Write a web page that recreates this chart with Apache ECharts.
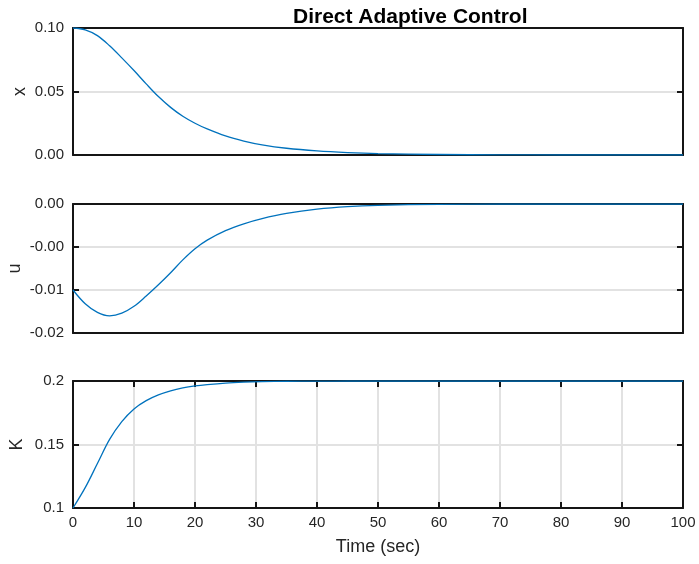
<!DOCTYPE html>
<html>
<head>
<meta charset="utf-8">
<script src="https://cdn.jsdelivr.net/npm/echarts@6/dist/echarts.min.js"></script>
<style>
  html, body { margin: 0; padding: 0; background: #fff; }
  #chart { width: 699px; height: 564px; }
</style>
</head>
<body>
<div id="chart"></div>
<script>
// time samples (sec) and the three responses
const timeSec = [0, 2, 4, 6, 8, 10, 12, 14, 16, 18, 20, 22, 25, 28, 31, 35, 40, 45, 50, 60, 70, 80, 90, 100];
const xVals = [0.1, 0.0985, 0.094, 0.086, 0.0765, 0.0665, 0.056, 0.046, 0.0375, 0.0305, 0.025, 0.0205, 0.015, 0.011, 0.008, 0.0053, 0.0032, 0.0019, 0.0011, 0.0004, 0.0001, 0, 0, 0];
const uVals = [-0.0100, -0.0116, -0.0126, -0.0130, -0.0127, -0.0119, -0.0107, -0.0094, -0.0080, -0.0065, -0.0052, -0.0042, -0.0031, -0.0023, -0.0017, -0.0011, -0.0006, -0.0003, -0.00015, -0.00004, 0, 0, 0, 0];
const kVals = [0.1, 0.116, 0.135, 0.154, 0.168, 0.178, 0.1845, 0.189, 0.1922, 0.1945, 0.1961, 0.1972, 0.1984, 0.1991, 0.1995, 0.1998, 0.1999, 0.2, 0.2, 0.2, 0.2, 0.2, 0.2, 0.2];

const timeTicks = [0, 10, 20, 30, 40, 50, 60, 70, 80, 90, 100];
const xTickLabels = ['0.00', '0.05', '0.10'];
const uTickLabels = ['-0.02', '-0.01', '-0.00', '0.00'];
const kTickLabels = ['0.1', '0.15', '0.2'];

const FONT = 'Liberation Sans, Arial, Helvetica, sans-serif';
const BLUE = '#0072BD';
const GRIDC = '#e2e2e2';
const TXT = '#262626';
const FRAME = { color: '#151515', width: 2 };

const pairs = (ys) => timeSec.map((t, i) => [t, ys[i]]);

function yAx(gi, min, max, interval, labels, name, gap, right) {
  return {
    type: 'value', gridIndex: gi, min: min, max: max, interval: interval,
    position: right ? 'right' : 'left',
    name: right ? '' : name, nameLocation: 'middle', nameGap: gap,
    nameMoveOverlap: false,
    nameTextStyle: { fontFamily: FONT, fontSize: 18, color: TXT },
    axisLine: { show: true, onZero: false, lineStyle: FRAME },
    axisTick: { show: true, inside: true, length: 6, lineStyle: FRAME },
    axisLabel: {
      show: !right, fontFamily: FONT, fontSize: 15, color: TXT, margin: 9,
      formatter: (v, i) => labels[i]
    },
    splitLine: { show: !right, lineStyle: { color: GRIDC, width: 2 } }
  };
}

function xAx(gi, showTicks, top) {
  return {
    type: 'value', gridIndex: gi, min: 0, max: 100, interval: 10,
    position: top ? 'top' : 'bottom',
    axisLine: { show: true, onZero: false, lineStyle: FRAME },
    axisTick: { show: showTicks, inside: true, length: 6, lineStyle: FRAME },
    axisLabel: {
      show: showTicks && !top, fontFamily: FONT, fontSize: 15, color: TXT, margin: 7,
      formatter: (v) => timeTicks.includes(v) ? String(v) : ''
    },
    splitLine: { show: showTicks && !top, lineStyle: { color: GRIDC, width: 2 } },
    name: (showTicks && !top) ? 'Time (sec)' : '',
    nameLocation: 'middle', nameGap: 30, nameMoveOverlap: false,
    nameTextStyle: { fontFamily: FONT, fontSize: 18, color: TXT }
  };
}

const gridBox = { left: 73, width: 610, containLabel: false, outerBoundsMode: 'none' };

const chart = echarts.init(document.getElementById('chart'), null, { renderer: 'canvas' });
chart.setOption({
  animation: false,
  backgroundColor: '#fff',
  title: {
    text: 'Direct Adaptive Control', left: 288, top: 2,
    textStyle: { fontFamily: FONT, fontSize: 21, fontWeight: 'bold', color: '#000' }
  },
  grid: [
    Object.assign({}, gridBox, { top: 28, height: 127 }),
    Object.assign({}, gridBox, { top: 204, height: 129 }),
    Object.assign({}, gridBox, { top: 381, height: 127 })
  ],
  xAxis: [
    xAx(0, false, false),
    xAx(0, false, true),
    xAx(1, false, false),
    xAx(1, false, true),
    xAx(2, true, false),
    xAx(2, true, true)
  ],
  yAxis: [
    yAx(0, 0, 0.1, 0.05, xTickLabels, 'x', 44, false),
    yAx(0, 0, 0.1, 0.05, xTickLabels, '', 0, true),
    yAx(1, -0.015, 0, 0.005, uTickLabels, 'u', 49, false),
    yAx(1, -0.015, 0, 0.005, uTickLabels, '', 0, true),
    yAx(2, 0.1, 0.2, 0.05, kTickLabels, 'K', 47, false),
    yAx(2, 0.1, 0.2, 0.05, kTickLabels, '', 0, true)
  ],
  series: [
    { type: 'line', xAxisIndex: 0, yAxisIndex: 0, data: pairs(xVals), showSymbol: false, smooth: 0.35, lineStyle: { color: BLUE, width: 1.3 } },
    { type: 'line', xAxisIndex: 2, yAxisIndex: 2, data: pairs(uVals), showSymbol: false, smooth: 0.35, lineStyle: { color: BLUE, width: 1.3 } },
    { type: 'line', xAxisIndex: 4, yAxisIndex: 4, data: pairs(kVals), showSymbol: false, smooth: 0.35, lineStyle: { color: BLUE, width: 1.3 } }
  ]
});
</script>
</body>
</html>
